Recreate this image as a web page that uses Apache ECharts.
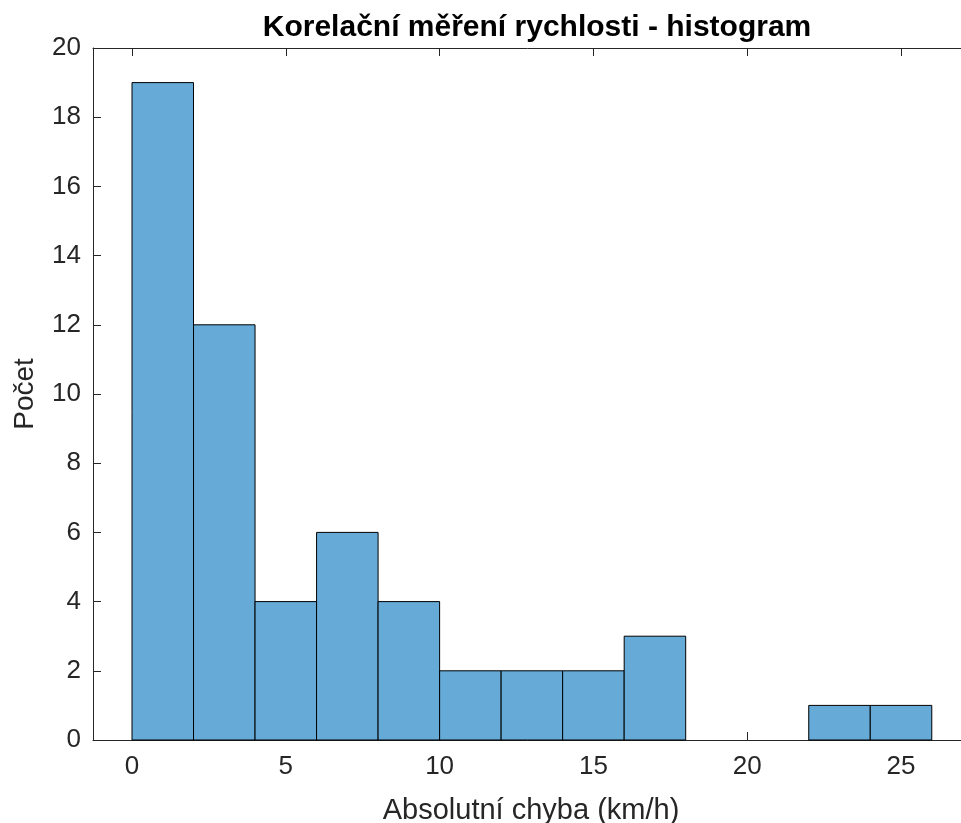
<!DOCTYPE html>
<html>
<head>
<meta charset="utf-8">
<script src="https://cdn.jsdelivr.net/npm/echarts@6/dist/echarts.min.js"></script>
<style>
  html, body { margin: 0; padding: 0; background: #fff; }
  #chart { width: 961px; height: 823px; }
</style>
</head>
<body>
<div id="chart"></div>
<script>
// Histogram bins (km/h) and counts
const binEdges = [0, 2, 4, 6, 8, 10, 12, 14, 16, 18, 20, 22, 24, 26];
const counts = [19, 12, 4, 6, 4, 2, 2, 2, 3, 0, 0, 1, 1];
const xTicks = [0, 5, 10, 15, 20, 25];
const yTicks = [0, 2, 4, 6, 8, 10, 12, 14, 16, 18, 20];

const titleText = 'Korelační měření rychlosti - histogram';
const xName = 'Absolutní chyba (km/h)';
const yName = 'Počet';

const bins = counts.map((c, i) => [binEdges[i], binEdges[i + 1], c]);

const font = '"Liberation Sans", Arial, Helvetica, sans-serif';
const ink = '#262626';

const chart = echarts.init(document.getElementById('chart'), null, { renderer: 'canvas' });

chart.setOption({
  animation: false,
  backgroundColor: '#ffffff',
  title: {
    text: titleText,
    left: 532, top: 8, textAlign: 'center',
    textStyle: { fontFamily: font, fontWeight: 'bold', fontSize: 30, color: '#000' }
  },
  // the axes box runs slightly past the right edge of the canvas
  grid: {
    left: 93, top: 48, right: -8, bottom: 83,
    containLabel: false, outerBoundsMode: 'none'
  },
  xAxis: [{
    type: 'value', min: -1.268, max: 27.21, position: 'bottom',
    name: xName, nameLocation: 'middle', nameGap: 56,
    nameTextStyle: { fontFamily: font, fontSize: 29, color: ink },
    axisLine: { show: true, onZero: false, lineStyle: { color: ink, width: 1 } },
    axisTick: { show: true, inside: true, length: 8, customValues: xTicks, lineStyle: { color: ink } },
    axisLabel: { customValues: xTicks, fontFamily: font, fontSize: 26, color: ink, margin: 14 },
    splitLine: { show: false }
  }, {
    type: 'value', min: -1.268, max: 27.21, position: 'top',
    axisLine: { show: true, onZero: false, lineStyle: { color: ink, width: 1 } },
    axisTick: { show: true, inside: true, length: 8, customValues: xTicks, lineStyle: { color: ink } },
    axisLabel: { show: false },
    splitLine: { show: false }
  }],
  yAxis: [{
    type: 'value', min: 0, max: 20, interval: 2, position: 'left',
    name: yName, nameLocation: 'middle', nameGap: 54, nameRotate: 90,
    nameTextStyle: { fontFamily: font, fontSize: 28, color: ink },
    axisLine: { show: true, onZero: false, lineStyle: { color: ink, width: 1 } },
    axisTick: { show: true, inside: true, length: 8, lineStyle: { color: ink } },
    axisLabel: { fontFamily: font, fontSize: 26, color: ink, margin: 12 },
    splitLine: { show: false }
  }],
  series: [{
    type: 'custom',
    xAxisIndex: 0, yAxisIndex: 0,
    data: bins.filter(b => b[2] > 0),
    encode: { x: [0, 1], y: 2 },
    renderItem: function (params, api) {
      const p0 = api.coord([api.value(0), api.value(2)]);
      const p1 = api.coord([api.value(1), 0]);
      return {
        type: 'rect',
        shape: { x: p0[0], y: p0[1], width: p1[0] - p0[0], height: p1[1] - p0[1] },
        style: { fill: '#66AAD7', stroke: '#000000', lineWidth: 1 }
      };
    }
  }]
});
</script>
</body>
</html>
